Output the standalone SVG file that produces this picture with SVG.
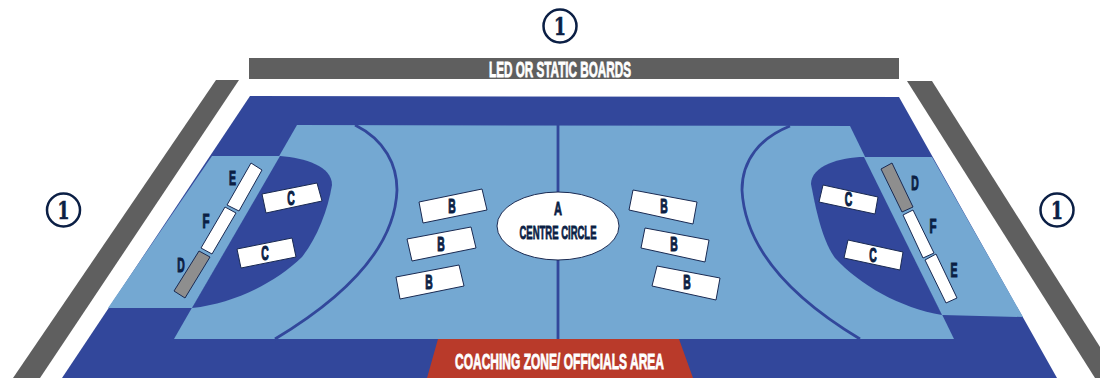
<svg xmlns="http://www.w3.org/2000/svg" width="1100" height="378" viewBox="0 0 1100 378">
<style>
.dark{fill:#32479b}
.light{fill:#74a8d2}
.board{fill:#5f5f5f}
.seat{fill:#fff;stroke:#1a2a52;stroke-width:1}
.grey{fill:#8e8e8e;stroke:#1a2a52;stroke-width:1}
.line{fill:none;stroke:#32479b;stroke-width:2.8}
.t{font-family:"Liberation Sans Narrow","Liberation Sans",sans-serif;font-weight:700;fill:#0b1f45;stroke:#0b1f45;stroke-width:.8;text-anchor:middle;font-size:18.500px}
.l{font-size:20px;stroke-width:1.1}
.w{fill:#fff;stroke:#fff;stroke-width:.8;font-size:22px}
.ring{fill:#fff;stroke:#0b1f45;stroke-width:2.5}
.one{font-family:"DejaVu Serif",serif;font-weight:700;font-size:25px;fill:#0b1f45;stroke:#0b1f45;stroke-width:.7;text-anchor:middle}
</style>
<rect width="1100" height="378" fill="#fff"/>
<g id="court">
<polygon class="dark" points="250,96 899,97 1057,378 62,378"/>
<polygon class="light" points="297,125 850,126 954,339 174,339"/>
<polygon class="light" points="212,156 280,156 192,308 108,308"/>
<polygon class="light" points="864,157 932,157 1023,317 942,315"/>
<path class="dark" d="M280,156C305,158 332,166 332,185C328,210 317,238 302,257C275,283 235,303 192,308Z"/>
<path class="dark" d="M864,157C840,157 811,166 811,184C816,210 822,240 835,258C860,285 900,308 942,315Z"/>
<path class="line" d="M355,125C385,140 397,165 397,190C395,250 340,300 275,339"/>
<path class="line" d="M790,126C760,138 742,160 742,190C745,250 795,300 860,339"/>
<line class="line" x1="558" y1="125" x2="558" y2="339"/>
</g>
<g id="board-left"><polygon class="board" points="216,80 239,80 40,378 13,378"/></g>
<g id="board-right"><polygon class="board" points="907,81 932,81 1100,347 1100,378 1095,378"/></g>
<g id="board-top"><rect class="board" x="249" y="58" width="650" height="21"/><text class="t w" x="560" y="77" textLength="142" lengthAdjust="spacingAndGlyphs">LED OR STATIC BOARDS</text></g>
<g id="coaching-zone"><polygon fill="#b93a2a" points="438,339 679,339 693,378 427,378"/><text class="t w" x="559.5" y="369" textLength="209" lengthAdjust="spacingAndGlyphs">COACHING ZONE/ OFFICIALS AREA</text></g>
<g id="centre-circle"><ellipse class="seat" cx="558" cy="226" rx="61" ry="34"/><text class="t" x="558" y="215" textLength="8" lengthAdjust="spacingAndGlyphs">A</text><text class="t" x="558" y="239" textLength="77" lengthAdjust="spacingAndGlyphs">CENTRE CIRCLE</text></g>
<g id="b1"><polygon class="seat" points="419,202 482,189 487,210 423,223"/><text class="t l" x="452" y="213" textLength="7.5" lengthAdjust="spacingAndGlyphs">B</text></g>
<g id="b2"><polygon class="seat" points="407,239 471,227 476,248 412,261"/><text class="t l" x="441" y="251" textLength="7.5" lengthAdjust="spacingAndGlyphs">B</text></g>
<g id="b3"><polygon class="seat" points="396,277 459,265 464,286 400,299"/><text class="t l" x="429" y="289" textLength="7.5" lengthAdjust="spacingAndGlyphs">B</text></g>
<g id="b4"><polygon class="seat" points="633,190 697,202 693,224 629,210"/><text class="t l" x="664" y="213" textLength="7.5" lengthAdjust="spacingAndGlyphs">B</text></g>
<g id="b5"><polygon class="seat" points="645,228 709,240 705,262 641,248"/><text class="t l" x="674" y="251" textLength="7.5" lengthAdjust="spacingAndGlyphs">B</text></g>
<g id="b6"><polygon class="seat" points="657,266 720,278 716,300 652,286"/><text class="t l" x="687" y="289" textLength="7.5" lengthAdjust="spacingAndGlyphs">B</text></g>
<g id="c1"><polygon class="seat" points="262,194 317,183 322,201 266,213"/><text class="t l" x="291" y="205" textLength="7.5" lengthAdjust="spacingAndGlyphs">C</text></g>
<g id="c2"><polygon class="seat" points="237,249 292,238 296,257 241,268"/><text class="t l" x="265" y="260" textLength="7.5" lengthAdjust="spacingAndGlyphs">C</text></g>
<g id="c3"><polygon class="seat" points="823,185 878,197 875,214 819,202"/><text class="t l" x="848.5" y="206" textLength="7.5" lengthAdjust="spacingAndGlyphs">C</text></g>
<g id="c4"><polygon class="seat" points="848,240 903,252 900,270 844,258"/><text class="t l" x="873" y="262" textLength="7.5" lengthAdjust="spacingAndGlyphs">C</text></g>
<g id="e-left"><polygon class="seat" points="251,163 262,170 239,211 227,205"/><text class="t l" x="232.500" y="185" textLength="7" lengthAdjust="spacingAndGlyphs">E</text></g>
<g id="f-left"><polygon class="seat" points="225,207 236,213 212,254 201,248"/><text class="t l" x="206" y="228" textLength="7" lengthAdjust="spacingAndGlyphs">F</text></g>
<g id="d-left"><polygon class="grey" points="199,251 210,257 185,298 174,291"/><text class="t l" x="181" y="272" textLength="7.500" lengthAdjust="spacingAndGlyphs">D</text></g>
<g id="d-right"><polygon class="grey" points="881,169 892,163 913,207 902,212"/><text class="t l" x="915" y="190" textLength="7.500" lengthAdjust="spacingAndGlyphs">D</text></g>
<g id="f-right"><polygon class="seat" points="903,215 913,210 934,253 923,258"/><text class="t l" x="933" y="233" textLength="7" lengthAdjust="spacingAndGlyphs">F</text></g>
<g id="e-right"><polygon class="seat" points="925,260 936,254 957,298 946,303"/><text class="t l" x="954" y="277" textLength="7" lengthAdjust="spacingAndGlyphs">E</text></g>
<g id="marker-top"><circle class="ring" cx="560" cy="26" r="16.500"/><text class="one" x="560" y="35" textLength="12" lengthAdjust="spacingAndGlyphs">1</text></g>
<g id="marker-left"><circle class="ring" cx="63.500" cy="210" r="16.500"/><text class="one" x="63.500" y="219" textLength="12" lengthAdjust="spacingAndGlyphs">1</text></g>
<g id="marker-right"><circle class="ring" cx="1057" cy="210" r="16.500"/><text class="one" x="1057" y="219" textLength="12" lengthAdjust="spacingAndGlyphs">1</text></g>
</svg>
